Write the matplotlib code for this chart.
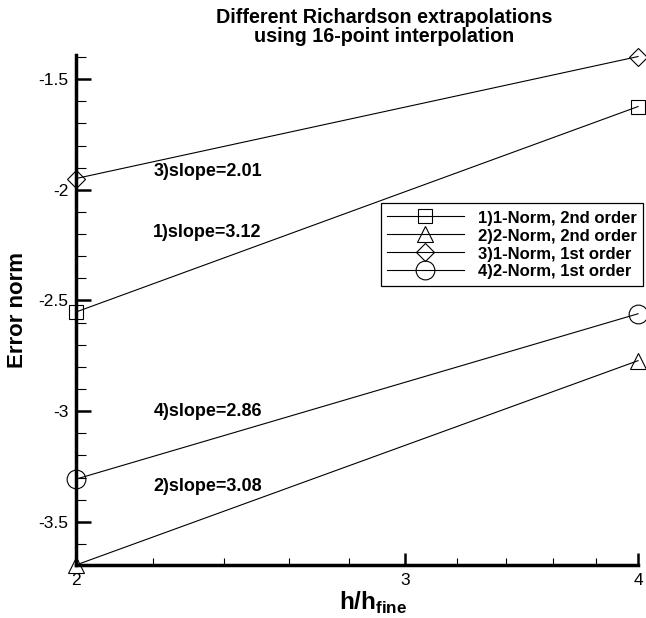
import matplotlib
matplotlib.use('Agg')
import matplotlib.pyplot as plt
from matplotlib.ticker import FixedLocator, MultipleLocator, NullFormatter, FuncFormatter

plt.rcParams['font.family'] = ['Liberation Sans', 'DejaVu Sans']
plt.rcParams['axes.unicode_minus'] = False
plt.rcParams['mathtext.fontset'] = 'custom'
plt.rcParams['mathtext.bf'] = 'Liberation Sans:bold'
plt.rcParams['mathtext.rm'] = 'Liberation Sans'

# grid spacing ratio h/h_fine
h_ratio = [2, 4]

# log10 of the error norm
err_1norm_2nd = [-2.552, -1.624]
err_2norm_2nd = [-3.695, -2.772]
err_1norm_1st = [-1.949, -1.398]
err_2norm_1st = [-3.307, -2.560]

series_labels = ['1)1-Norm, 2nd order', '2)2-Norm, 2nd order',
                 '3)1-Norm, 1st order', '4)2-Norm, 1st order']

slope_labels = ['3)slope=2.01', '1)slope=3.12', '4)slope=2.86', '2)slope=3.08']
slope_label_x = [2.2, 2.2, 2.2, 2.2]
slope_label_y = [-1.916, -2.195, -3.0, -3.34]

x_major = [2, 3, 4]
x_minor = [2.2, 2.4, 2.6, 2.8, 3.2, 3.4, 3.6, 3.8]

fig = plt.figure(figsize=(6.46, 6.18), dpi=100)
ax = fig.add_axes([76 / 646, 1 - 565 / 618, 562 / 646, 510 / 618])

styles = [('s', 9.5), ('^', 12), ('D', 9.2), ('o', 13.5)]
all_series = [err_1norm_2nd, err_2norm_2nd, err_1norm_1st, err_2norm_1st]
for ys, label, (marker, ms) in zip(all_series, series_labels, styles):
    ax.plot(h_ratio, ys, color='black', lw=0.8, marker=marker, ms=ms,
            mfc='none', mec='black', mew=0.8, label=label, clip_on=False)

for tx, ty, txt in zip(slope_label_x, slope_label_y, slope_labels):
    ax.text(tx, ty, txt, fontsize=13, fontweight='bold', ha='left', va='center')

ax.set_xscale('log')
ax.set_xlim(2, 4)
ax.set_ylim(-3.695, -1.391)
ax.xaxis.set_major_locator(FixedLocator(x_major))
ax.xaxis.set_major_formatter(FuncFormatter(lambda v, p: f'{v:g}'))
ax.xaxis.set_minor_locator(FixedLocator(x_minor))
ax.xaxis.set_minor_formatter(NullFormatter())
ax.yaxis.set_major_locator(MultipleLocator(0.5))
ax.yaxis.set_minor_locator(MultipleLocator(0.1))
ax.yaxis.set_major_formatter(FuncFormatter(lambda v, p: f'{v:g}'))

for side in ['top', 'right']:
    ax.spines[side].set_visible(False)
for side in ['left', 'bottom']:
    ax.spines[side].set_linewidth(2.5)

ax.tick_params(axis='y', which='major', direction='in', length=10.5, width=1.8,
               labelsize=12.5, pad=5.5)
ax.tick_params(axis='y', which='minor', direction='in', length=7, width=0.8)
ax.tick_params(axis='x', which='major', direction='in', length=9, width=1.8,
               labelsize=12.5, pad=5.5)
ax.tick_params(axis='x', which='minor', direction='in', length=5, width=0.8)

ax.set_ylabel('Error norm', fontsize=16, fontweight='bold')
ax.yaxis.set_label_coords(-0.0854, 0.5)
ax.set_xlabel(r'$\mathbf{h/h}_{\mathbf{fine}}$', fontsize=17.5)
ax.xaxis.set_label_coords(0.528, -0.048)

fig.text(384 / 646, 1 - 27 / 618,
         'Different Richardson extrapolations\nusing 16-point interpolation',
         ha='center', va='center', fontsize=14.2, fontweight='bold',
         linespacing=1.0)

leg = ax.legend(loc='upper right', bbox_to_anchor=(643 / 646, 1 - 203 / 618),
                bbox_transform=fig.transFigure, prop={'weight': 'bold', 'size': 12},
                handlelength=4.6, handleheight=1.12, handletextpad=0.85,
                borderpad=0.38, labelspacing=0.06, numpoints=1, fancybox=False,
                framealpha=1, borderaxespad=0)
leg.get_frame().set_edgecolor('black')
leg.get_frame().set_linewidth(0.9)

fig.savefig('out.png', dpi=100)
